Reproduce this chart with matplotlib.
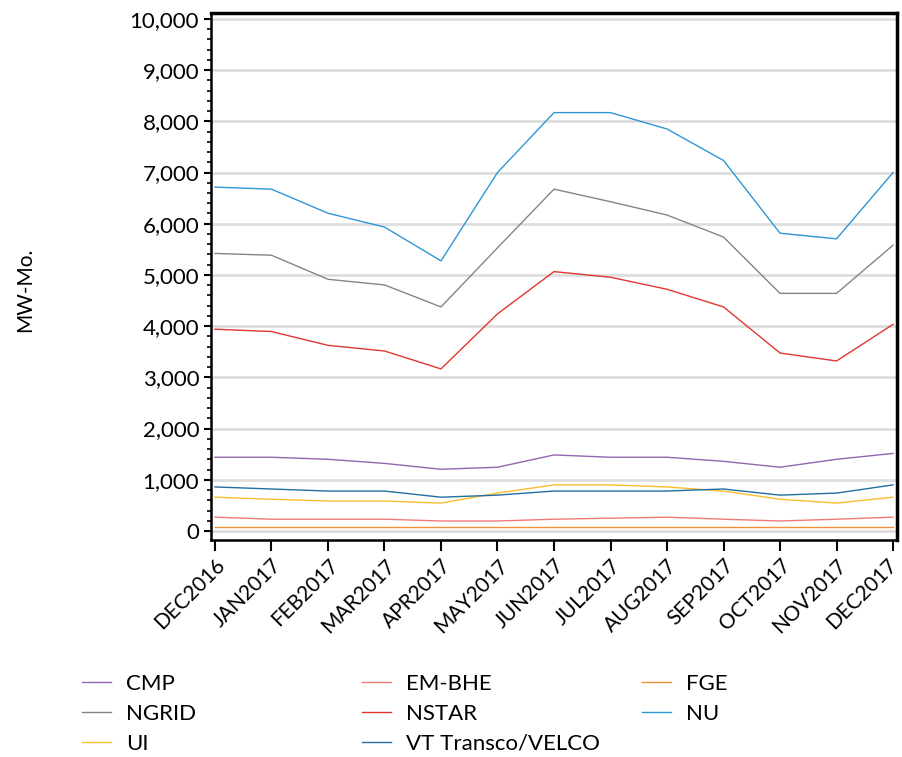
import matplotlib
matplotlib.use("Agg")
import matplotlib.pyplot as plt
import matplotlib.transforms as mtransforms
from matplotlib.ticker import MultipleLocator, FuncFormatter

plt.rcParams['font.family'] = ['Lato', 'DejaVu Sans']

months = ['DEC2016', 'JAN2017', 'FEB2017', 'MAR2017', 'APR2017', 'MAY2017', 'JUN2017',
          'JUL2017', 'AUG2017', 'SEP2017', 'OCT2017', 'NOV2017', 'DEC2017']

cmp_ = [1440, 1440, 1400, 1320, 1205, 1245, 1485, 1440, 1440, 1360, 1245, 1400, 1515]
em_bhe = [270, 230, 230, 230, 195, 195, 230, 250, 270, 230, 195, 230, 270]
fge = [75, 75, 75, 75, 75, 75, 75, 75, 75, 75, 75, 75, 75]
ngrid = [5420, 5385, 4915, 4805, 4375, 5530, 6675, 6430, 6170, 5740, 4640, 4640, 5580]
nstar = [3940, 3895, 3625, 3515, 3165, 4240, 5065, 4955, 4720, 4375, 3475, 3320, 4035]
nu = [6715, 6675, 6205, 5935, 5275, 7000, 8170, 8170, 7850, 7235, 5815, 5705, 7000]
ui = [660, 620, 585, 585, 545, 740, 900, 900, 860, 780, 620, 545, 660]
vt = [860, 820, 780, 780, 660, 700, 780, 780, 780, 820, 700, 740, 900]

names = ['CMP', 'EM-BHE', 'FGE', 'NGRID', 'NSTAR', 'NU', 'UI', 'VT Transco/VELCO']
series = [cmp_, em_bhe, fge, ngrid, nstar, nu, ui, vt]
colors = ['#9466b0', '#ef7b76', '#f0903a', '#7f878c', '#e0362f', '#2f96d6', '#fbbd2b', '#1f6fa3']

fig = plt.figure(figsize=(9.03, 7.57), dpi=100)
ax = fig.add_axes([211 / 903, 1 - 540 / 757, 686 / 903, 527 / 757])

x = range(len(months))
lines = []
for vals, name, c in zip(series, names, colors):
    ln, = ax.plot(x, vals, color=c, lw=1.0, label=name)
    lines.append(ln)

ax.set_xlim(-0.07, 12.07)
ax.set_ylim(-176, 10115)
ax.yaxis.set_major_locator(MultipleLocator(1000))
ax.yaxis.set_minor_locator(MultipleLocator(200))
ax.yaxis.set_major_formatter(FuncFormatter(lambda v, p: f'{int(v):,}'))
ax.set_xticks(list(x))
ax.set_xticklabels(months, rotation=45, ha='right', va='top', rotation_mode='anchor', fontsize=15)
ax.tick_params(axis='y', labelsize=16, length=5, width=1.5, direction='out')
ax.tick_params(axis='y', which='minor', length=3, width=1.2)
ax.tick_params(axis='x', length=8, width=1.5, pad=3)
ax.grid(axis='y', color='#dedede', lw=2)
ax.set_axisbelow(True)
for s in ['top', 'right']:
    ax.spines[s].set_linewidth(2.5)
for s in ['left', 'bottom']:
    ax.spines[s].set_linewidth(1.8)

# nudge the last month label a little left so it stays inside the figure
last = ax.get_xticklabels()[-1]
last.set_transform(last.get_transform() + mtransforms.ScaledTranslation(-6 / 100, 0, fig.dpi_scale_trans))

fig.text(25 / 903, 1 - 290 / 757, 'MW-Mo.', rotation=90, ha='center', va='center', fontsize=15)

# legend: three columns, filled row by row
for col, xpix in enumerate([82, 362, 642]):
    idx = list(range(col, len(lines), 3))
    fig.legend([lines[i] for i in idx], [names[i] for i in idx],
               loc='upper left', bbox_to_anchor=(xpix / 903, 1 - 674 / 757),
               frameon=False, fontsize=16, handlelength=1.3, handletextpad=0.7,
               labelspacing=0.45, borderpad=0, borderaxespad=0)

fig.savefig('out.png', dpi=100)
